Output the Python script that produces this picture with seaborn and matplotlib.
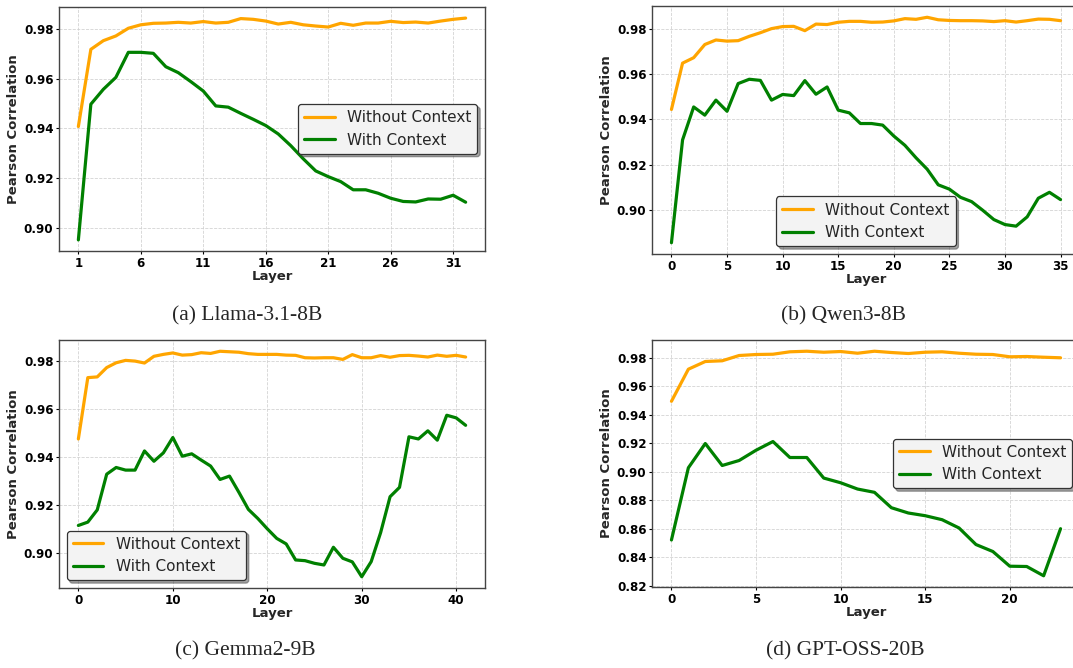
import numpy as np
import pandas as pd
import matplotlib
matplotlib.use('Agg')
import matplotlib.pyplot as plt
import seaborn as sns

sns.set_style('whitegrid')
plt.rcParams['font.family'] = ['DejaVu Sans']

# ---------------------------------------------------------------------------
# Data
# ---------------------------------------------------------------------------

# (a) Llama-3.1-8B, layers 1..32
llama_layers = list(range(1, 33))
llama_without = [0.9407, 0.9718, 0.9753, 0.9772, 0.9803, 0.9817, 0.9823, 0.9824,
                 0.9827, 0.9824, 0.9830, 0.9824, 0.9827, 0.9842, 0.9839, 0.9832,
                 0.9820, 0.9827, 0.9817, 0.9812, 0.9808, 0.9823, 0.9815, 0.9824,
                 0.9824, 0.9831, 0.9826, 0.9828, 0.9824, 0.9832, 0.9839, 0.9844]
llama_with = [0.8950, 0.9497, 0.9557, 0.9605, 0.9706, 0.9706, 0.9702, 0.9648,
              0.9624, 0.9588, 0.9550, 0.9490, 0.9485, 0.9460, 0.9436, 0.9411,
              0.9377, 0.9330, 0.9277, 0.9228, 0.9205, 0.9185, 0.9152, 0.9152,
              0.9138, 0.9118, 0.9105, 0.9103, 0.9115, 0.9114, 0.9130, 0.9102]

# (b) Qwen3-8B, layers 0..35
qwen_layers = list(range(0, 36))
qwen_without = [0.9444, 0.9648, 0.9672, 0.9730, 0.9750, 0.9745, 0.9747, 0.9766,
                0.9782, 0.9800, 0.9809, 0.9810, 0.9791, 0.9820, 0.9818, 0.9828,
                0.9832, 0.9832, 0.9828, 0.9829, 0.9834, 0.9844, 0.9841, 0.9850,
                0.9839, 0.9836, 0.9835, 0.9835, 0.9834, 0.9831, 0.9835, 0.9829,
                0.9835, 0.9842, 0.9841, 0.9835]
qwen_with = [0.8857, 0.9310, 0.9455, 0.9419, 0.9485, 0.9436, 0.9558, 0.9577,
             0.9572, 0.9485, 0.9510, 0.9505, 0.9571, 0.9511, 0.9543, 0.9441,
             0.9429, 0.9382, 0.9382, 0.9375, 0.9327, 0.9286, 0.9231, 0.9181,
             0.9112, 0.9093, 0.9057, 0.9038, 0.9000, 0.8959, 0.8937, 0.8930,
             0.8971, 0.9053, 0.9079, 0.9047]

# (c) Gemma2-9B, layers 0..41
gemma_layers = list(range(0, 42))
gemma_without = [0.9476, 0.9732, 0.9735, 0.9774, 0.9794, 0.9804, 0.9801, 0.9793,
                 0.9821, 0.9829, 0.9835, 0.9826, 0.9828, 0.9836, 0.9833, 0.9842,
                 0.9840, 0.9838, 0.9832, 0.9829, 0.9829, 0.9829, 0.9826, 0.9825,
                 0.9815, 0.9814, 0.9815, 0.9815, 0.9808, 0.9828, 0.9815, 0.9815,
                 0.9824, 0.9817, 0.9824, 0.9825, 0.9822, 0.9818, 0.9826, 0.9821,
                 0.9825, 0.9818]
gemma_with = [0.9115, 0.9129, 0.9180, 0.9329, 0.9357, 0.9346, 0.9346, 0.9426,
              0.9383, 0.9418, 0.9482, 0.9404, 0.9414, 0.9388, 0.9363, 0.9307,
              0.9321, 0.9253, 0.9182, 0.9144, 0.9101, 0.9061, 0.9038, 0.8971,
              0.8968, 0.8957, 0.8950, 0.9024, 0.8978, 0.8963, 0.8901, 0.8964,
              0.9085, 0.9235, 0.9274, 0.9485, 0.9476, 0.9510, 0.9471, 0.9575,
              0.9564, 0.9533]

# (d) GPT-OSS-20B, layers 0..23
gpt_layers = list(range(0, 24))
gpt_without = [0.9493, 0.9718, 0.9772, 0.9777, 0.9814, 0.9821, 0.9823, 0.9840,
               0.9844, 0.9837, 0.9842, 0.9830, 0.9844, 0.9835, 0.9828, 0.9837,
               0.9840, 0.9830, 0.9823, 0.9821, 0.9805, 0.9807, 0.9802, 0.9798]
gpt_with = [0.8521, 0.9027, 0.9197, 0.9043, 0.9078, 0.9150, 0.9211, 0.9099,
            0.9099, 0.8955, 0.8922, 0.8878, 0.8855, 0.8747, 0.8710, 0.8691,
            0.8663, 0.8605, 0.8489, 0.8440, 0.8337, 0.8335, 0.8270, 0.8600]

series_names = ['Without Context', 'With Context']
palette = {'Without Context': '#FFA500', 'With Context': '#008000'}

captions = ['(a) Llama-3.1-8B', '(b) Qwen3-8B', '(c) Gemma2-9B', '(d) GPT-OSS-20B']

# ---------------------------------------------------------------------------
# Figure: four panels placed like the composite in the paper
# ---------------------------------------------------------------------------
W, H = 1073, 668
fig = plt.figure(figsize=(W / 100, H / 100), dpi=100)


def px_axes(left, top, right, bottom):
    return fig.add_axes([left / W, 1 - bottom / H, (right - left) / W, (bottom - top) / H])


panels = [
    (px_axes(59, 7, 485, 251), llama_layers, llama_without, llama_with,
     list(range(1, 33, 5)), np.arange(0.90, 0.981, 0.02), 'center right'),
    (px_axes(652, 6, 1080, 254), qwen_layers, qwen_without, qwen_with,
     list(range(0, 36, 5)), np.arange(0.90, 0.981, 0.02), 'lower center'),
    (px_axes(59, 340, 485, 588), gemma_layers, gemma_without, gemma_with,
     list(range(0, 42, 10)), np.arange(0.90, 0.981, 0.02), 'lower left'),
    (px_axes(652, 340, 1080, 587), gpt_layers, gpt_without, gpt_with,
     list(range(0, 24, 5)), np.arange(0.82, 0.981, 0.02), 'center right'),
]

for ax, layers, without, with_ctx, xticks, yticks, legend_loc in panels:
    df = pd.DataFrame({
        'Layer': layers * 2,
        'Pearson Correlation': without + with_ctx,
        'Setting': [series_names[0]] * len(layers) + [series_names[1]] * len(layers),
    })
    sns.lineplot(data=df, x='Layer', y='Pearson Correlation', hue='Setting',
                 hue_order=series_names, palette=palette, linewidth=2.3, ax=ax)

    ax.set_xticks(xticks)
    ax.set_yticks(yticks)
    ax.set_yticklabels([f'{v:.2f}' for v in yticks])
    ax.tick_params(axis='both', labelsize=8.6, length=2, width=0.8, pad=2,
                   colors='black', direction='out', bottom=True, left=True)
    for lbl in ax.get_xticklabels() + ax.get_yticklabels():
        lbl.set_fontweight('bold')
    ax.set_xlabel('Layer', fontsize=9.5, fontweight='bold', labelpad=0)
    ax.set_ylabel('Pearson Correlation', fontsize=9.5, fontweight='bold', labelpad=3)

    ax.grid(True, linestyle='--', color='#cfcfcf', linewidth=0.6, alpha=0.9)
    for sp in ax.spines.values():
        sp.set_color('#444444')
        sp.set_linewidth(1.0)

    leg = ax.legend(loc=legend_loc, fontsize=11, frameon=True, shadow=True,
                    fancybox=True, facecolor='#f3f3f3', edgecolor='#333333',
                    framealpha=1.0)
    leg.get_frame().set_linewidth(0.9)

# captions under each panel (serif, like the paper)
fig.text(247 / W, 1 - 316 / H, captions[0], ha='center', va='center',
         fontsize=15.5, family='Liberation Serif')
fig.text(843 / W, 1 - 316 / H, captions[1], ha='center', va='center',
         fontsize=15.5, family='Liberation Serif')
fig.text(245 / W, 1 - 651 / H, captions[2], ha='center', va='center',
         fontsize=15.5, family='Liberation Serif')
fig.text(845 / W, 1 - 651 / H, captions[3], ha='center', va='center',
         fontsize=15.5, family='Liberation Serif')

fig.savefig('out.png', dpi=100)
